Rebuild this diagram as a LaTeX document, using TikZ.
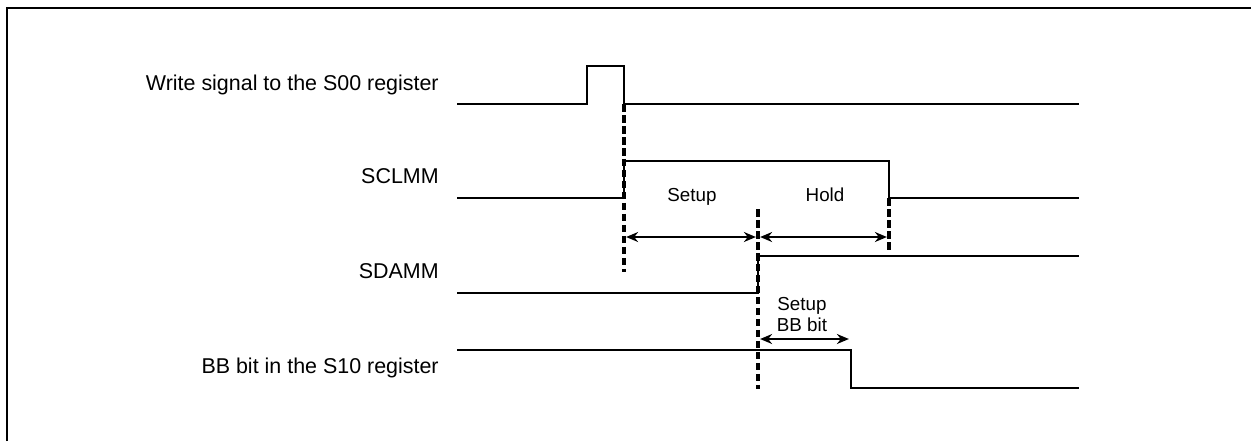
\documentclass[tikz,border=0pt]{standalone}
\usepackage{fontspec}
\setmainfont{Liberation Sans}
\usetikzlibrary{arrows.meta}
\begin{document}
\begin{tikzpicture}[
    x=0.02cm, y=-0.02cm,
    >={Stealth[length=2.4mm,width=2mm]},
    sig/.style={line width=1.1pt},
    guide/.style={line width=2pt, dash pattern=on 0.15cm off 0.07cm},
    span/.style={<->, line width=1pt, shorten >=1.2pt, shorten <=1.2pt},
    siglabel/.style={anchor=base east, inner sep=0pt, font=\fontsize{12.2}{14}\selectfont},
    timelabel/.style={anchor=base, inner sep=0pt, align=center, font=\fontsize{10.7}{11.4}\selectfont}
]
    \useasboundingbox (0,0) rectangle (1251,441);
    \draw[line width=1.1pt] (7,441) -- (7,8) -- (1251,8);

    \node[siglabel] (wrlab) at (439,90) {Write signal to the S00 register};
    \node[siglabel] (scllab) at (439,183) {SCLMM};
    \node[siglabel] (sdalab) at (439,278) {SDAMM};
    \node[siglabel] (bblab) at (439,373) {BB bit in the S10 register};

    % waveforms
    \draw[sig] (457,104) -- (587,104) -- (587,66) -- (624,66) -- (624,104) -- (1079,104);
    \draw[sig] (457,198) -- (624,198) -- (624,161) -- (889,161) -- (889,198) -- (1079,198);
    \draw[sig] (457,293) -- (758,293) -- (758,256) -- (1079,256);
    \draw[sig] (457,350) -- (851,350) -- (851,388) -- (1079,388);

    % timing guides
    \coordinate (wrtop) at (624,104);
    \coordinate (wrbot) at (624,272);
    \coordinate (sdatop) at (758,209);
    \coordinate (sdabot) at (758,389);
    \coordinate (scltop) at (889,198);
    \coordinate (sclbot) at (889,250);
    \draw[guide] (wrtop) -- (wrbot);
    \draw[guide] (sdatop) -- (sdabot);
    \draw[guide] (scltop) -- (sclbot);

    \coordinate (setupL) at (624,237);
    \coordinate (setupR) at (758,237);
    \coordinate (holdR) at (889,237);
    \coordinate (bbL) at (758,339);
    \coordinate (bbR) at (851,339);
    \draw[span] (setupL) -- (setupR);
    \draw[span] (setupR) -- (holdR);
    \draw[span] (bbL) -- (bbR);

    \node[timelabel] (setuplab) at (692,201) {Setup};
    \node[timelabel] (holdlab) at (825,201) {Hold};
    \node[timelabel] (bbsetlab) at (802,331) {Setup\\BB bit};
\end{tikzpicture}
\end{document}
